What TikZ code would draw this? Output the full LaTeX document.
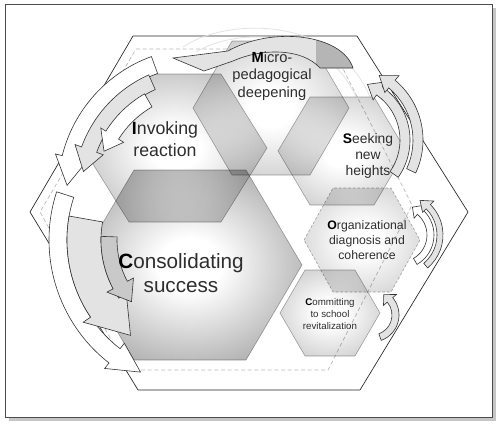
\documentclass[tikz,border=0pt]{standalone}
\usepackage{fontspec}
\setmainfont{Liberation Sans}
\usetikzlibrary{calc}
\definecolor{txt}{HTML}{2E2E2E}
\colorlet{hexout}{gray}
\pgfdeclareradialshading[hexout]{hexsh}{\pgfpoint{0bp}{0bp}}{color(0bp)=(white); color(7bp)=(white); color(34bp)=(hexout); color(50bp)=(hexout)}
\newcommand\ini[1]{{\bfseries\color{black}#1}}
\newcommand\barrow[9]{%
 \pgfmathsetmacro\bRo{#5+#9}%
 \pgfmathsetmacro\bRi{#4-#9}%
 \pgfmathsetmacro\bRm{(#4+#5)/2}%
 \draw[#1] ($(#2,#3)+(#6:#5)$) arc[start angle=#6,end angle=#7,radius=#5]
   -- ($(#2,#3)+(#7:\bRo)$) -- ($(#2,#3)+(#8:\bRm)$) -- ($(#2,#3)+(#7:\bRi)$)
   -- ($(#2,#3)+(#7:#4)$) arc[start angle=#7,end angle=#6,radius=#4] -- cycle;}
\newcommand\hexfill[2]{\colorlet{hexout}{gray!#1}\shadedraw[hexa] #2;}
\tikzset{
 hexa/.style={blend mode=multiply, shading=hexsh, draw=gray!70, line width=0.4pt},
 arrW/.style={fill=white, draw=black!80, line width=0.45pt},
 arrL/.style={fill=gray!22, draw=black!80, line width=0.45pt},
 arrM/.style={fill=gray!42, draw=black!80, line width=0.45pt},
 txtn/.style={text=txt, align=center, inner sep=0pt},
}
\begin{document}
\begin{tikzpicture}[x=0.75pt,y=-0.75pt]
\useasboundingbox (0,0) rectangle (500,425);
% frame
\fill[gray!45] (9,8) rectangle (496,421);
\draw[fill=white, draw=black!70, line width=0.6pt] (5,4) rectangle (492,417);
% outer hexagon and dashed inner hexagon
\draw[black!85, line width=0.5pt] (133,36) -- (357,36) -- (468,212) -- (360,390) -- (138,390) -- (30,212) -- cycle;
\draw[gray!55, dash pattern=on 3pt off 2pt, line width=0.5pt] (136,49) -- (333,49) -- (412,205) -- (328,370) -- (128,370) -- (40,212) -- cycle;
% ghost arc
\draw[gray!22, line width=0.6pt] (183,47) .. controls (225,18) and (335,14) .. (370,97);
\draw[gray!22, line width=0.6pt] (196,52) .. controls (235,28) and (325,26) .. (356,97);
% hexagons
\hexfill{48}{(193,108) -- (232,41) -- (310,41) -- (349,108) -- (310,175) -- (232,175) -- cycle}
\hexfill{45}{(278,151) -- (310,97) -- (374,97) -- (406,151) -- (374,205) -- (310,205) -- cycle}
\colorlet{hexout}{gray!40}
\shadedraw[hexa, draw=gray!70, dash pattern=on 2pt off 1.5pt] (304,240) -- (333,188) -- (391,188) -- (420,240) -- (391,292) -- (333,292) -- cycle;
\hexfill{45}{(280,313) -- (305,270) -- (355,270) -- (380,313) -- (355,356) -- (305,356) -- cycle}
\hexfill{60}{(83,148) -- (129,74) -- (221,74) -- (267,148) -- (221,222) -- (129,222) -- cycle}
\hexfill{78}{(78,265) -- (134,170) -- (246,170) -- (302,265) -- (246,360) -- (134,360) -- cycle}
% top arrow
\def\toppath{(353,68) .. controls (342,34) and (272,26) .. (228,51) -- (173,58) -- (204,71) -- (233,61) .. controls (262,48) and (302,48) .. (320,68) -- cycle}
\fill[gray!22] \toppath;
\begin{scope}
\clip \toppath;
\fill[gray!58] (316,30) rectangle (360,70);
\end{scope}
\draw[black!80, line width=0.45pt] \toppath;
% upper-left arrows
\barrow{arrW}{200}{190}{124}{142}{250}{194}{182}{7}
\barrow{arrL}{200}{190}{110}{126}{246}{200}{189}{7}
\barrow{arrW}{200}{190}{96}{111}{240}{212}{202}{6}
% lower-left arrows
\barrow{arrW}{205}{240}{138}{156}{198}{128}{116}{7}
\barrow{arrL}{205}{240}{104}{138}{190}{146}{128}{9}
\barrow{arrM}{205}{240}{88}{104}{182}{152}{140}{7}
% right arrows (seeking)
\barrow{arrL}{345}{140}{55}{65}{35}{-55}{-68}{6}
\barrow{arrL}{345}{140}{68}{78}{25}{-50}{-62}{6}
% right arrows (organizational)
\barrow{arrW}{400}{235}{27}{34}{60}{-50}{-66}{5}
\barrow{arrL}{400}{235}{37}{43}{50}{-45}{-60}{5}
% right arrow (committing)
\barrow{arrL}{372}{315}{20}{27}{70}{-40}{-60}{5}
% texts
\node[txtn, font=\fontsize{11}{13}\selectfont] (micro) at (272,76) {\ini{M}icro-\\pedagogical\\deepening};
\node[txtn, font=\fontsize{13.3}{16}\selectfont] (invoke) at (165,139) {\ini{I}nvoking\\reaction};
\node[txtn, font=\fontsize{15.5}{17.5}\selectfont] (consol) at (181,273) {\ini{C}onsolidating\\success};
\node[txtn, font=\fontsize{10.4}{12}\selectfont] (seek) at (368,156) {\ini{S}eeking\\new\\heights};
\node[txtn, font=\fontsize{9.2}{11}\selectfont] (org) at (367,240) {\ini{O}rganizational\\diagnosis and\\coherence};
\node[txtn, font=\fontsize{7.3}{9}\selectfont] (commit) at (330,314) {\ini{C}ommitting\\to school\\revitalization};
\end{tikzpicture}
\end{document}
